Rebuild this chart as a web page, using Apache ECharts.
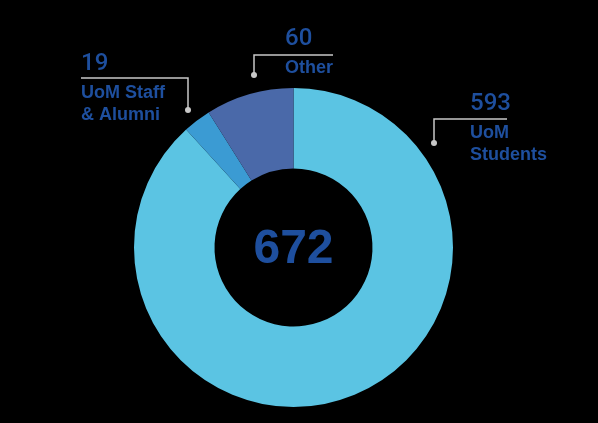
<!DOCTYPE html>
<html>
<head>
<meta charset="utf-8">
<script src="https://cdn.jsdelivr.net/npm/echarts@6/dist/echarts.min.js"></script>
<style>html,body{margin:0;padding:0;background:#000;}#c{width:598px;height:423px;}</style>
</head>
<body>
<div id="c"></div>
<script>
var categories = ['UoM\nStudents', 'UoM Staff\n& Alumni', 'Other'];
var values = [593, 19, 60];
var colors = ['#5bc4e3', '#3b9bd3', '#4a69a9'];

var labelPos = [[470, 84.5], [81, 44.5], [285, 19.5]];
var linePts = [
  [[434, 143], [434, 119], [507, 119]],
  [[188, 110], [188, 78], [81, 78]],
  [[254, 75], [254, 55], [333, 55]]
];
var total = values.reduce(function (a, b) { return a + b; }, 0);

var chart = echarts.init(document.getElementById('c'));
var dots = linePts.map(function (p) {
  return { type: 'circle', shape: { cx: p[0][0], cy: p[0][1], r: 3 }, style: { fill: '#c8c8c8' }, z: 100 };
});
dots.push({
  type: 'text', x: 293.5, y: 250, z: 100,
  style: { text: String(total), fill: '#1e4f9e', font: 'bold 48px "Liberation Sans", Arial, sans-serif', textAlign: 'center', textVerticalAlign: 'middle' }
});
chart.setOption({
  backgroundColor: '#000',
  animation: false,
  graphic: dots,
  series: [{
    type: 'pie',
    center: [293.5, 247.5],
    radius: [79, 159.5],
    startAngle: 90,
    clockwise: true,
    silent: true,
    data: categories.map(function (c, i) {
      return { name: c, value: values[i], itemStyle: { color: colors[i] } };
    }),
    label: {
      show: true,
      position: 'outside',
      formatter: '{v|{c}}\n{n|{b}}',
      align: 'left',
      verticalAlign: 'top',
      rich: {
        v: { fontSize: 24, lineHeight: 38, fontWeight: 500, color: '#1e4f9e', fontFamily: 'Roboto, "Liberation Sans", Arial, sans-serif' },
        n: { fontSize: 18, lineHeight: 22, fontWeight: 'bold', color: '#1e4f9e', fontFamily: '"Liberation Sans", Arial, sans-serif' }
      }
    },
    labelLine: { show: true, lineStyle: { color: '#c8c8c8', width: 1.5 } },
    labelLayout: function (params) {
      var i = params.dataIndex;
      return { x: labelPos[i][0], y: labelPos[i][1], align: 'left', verticalAlign: 'top', labelLinePoints: linePts[i] };
    }
  }]
});
</script>
</body>
</html>
